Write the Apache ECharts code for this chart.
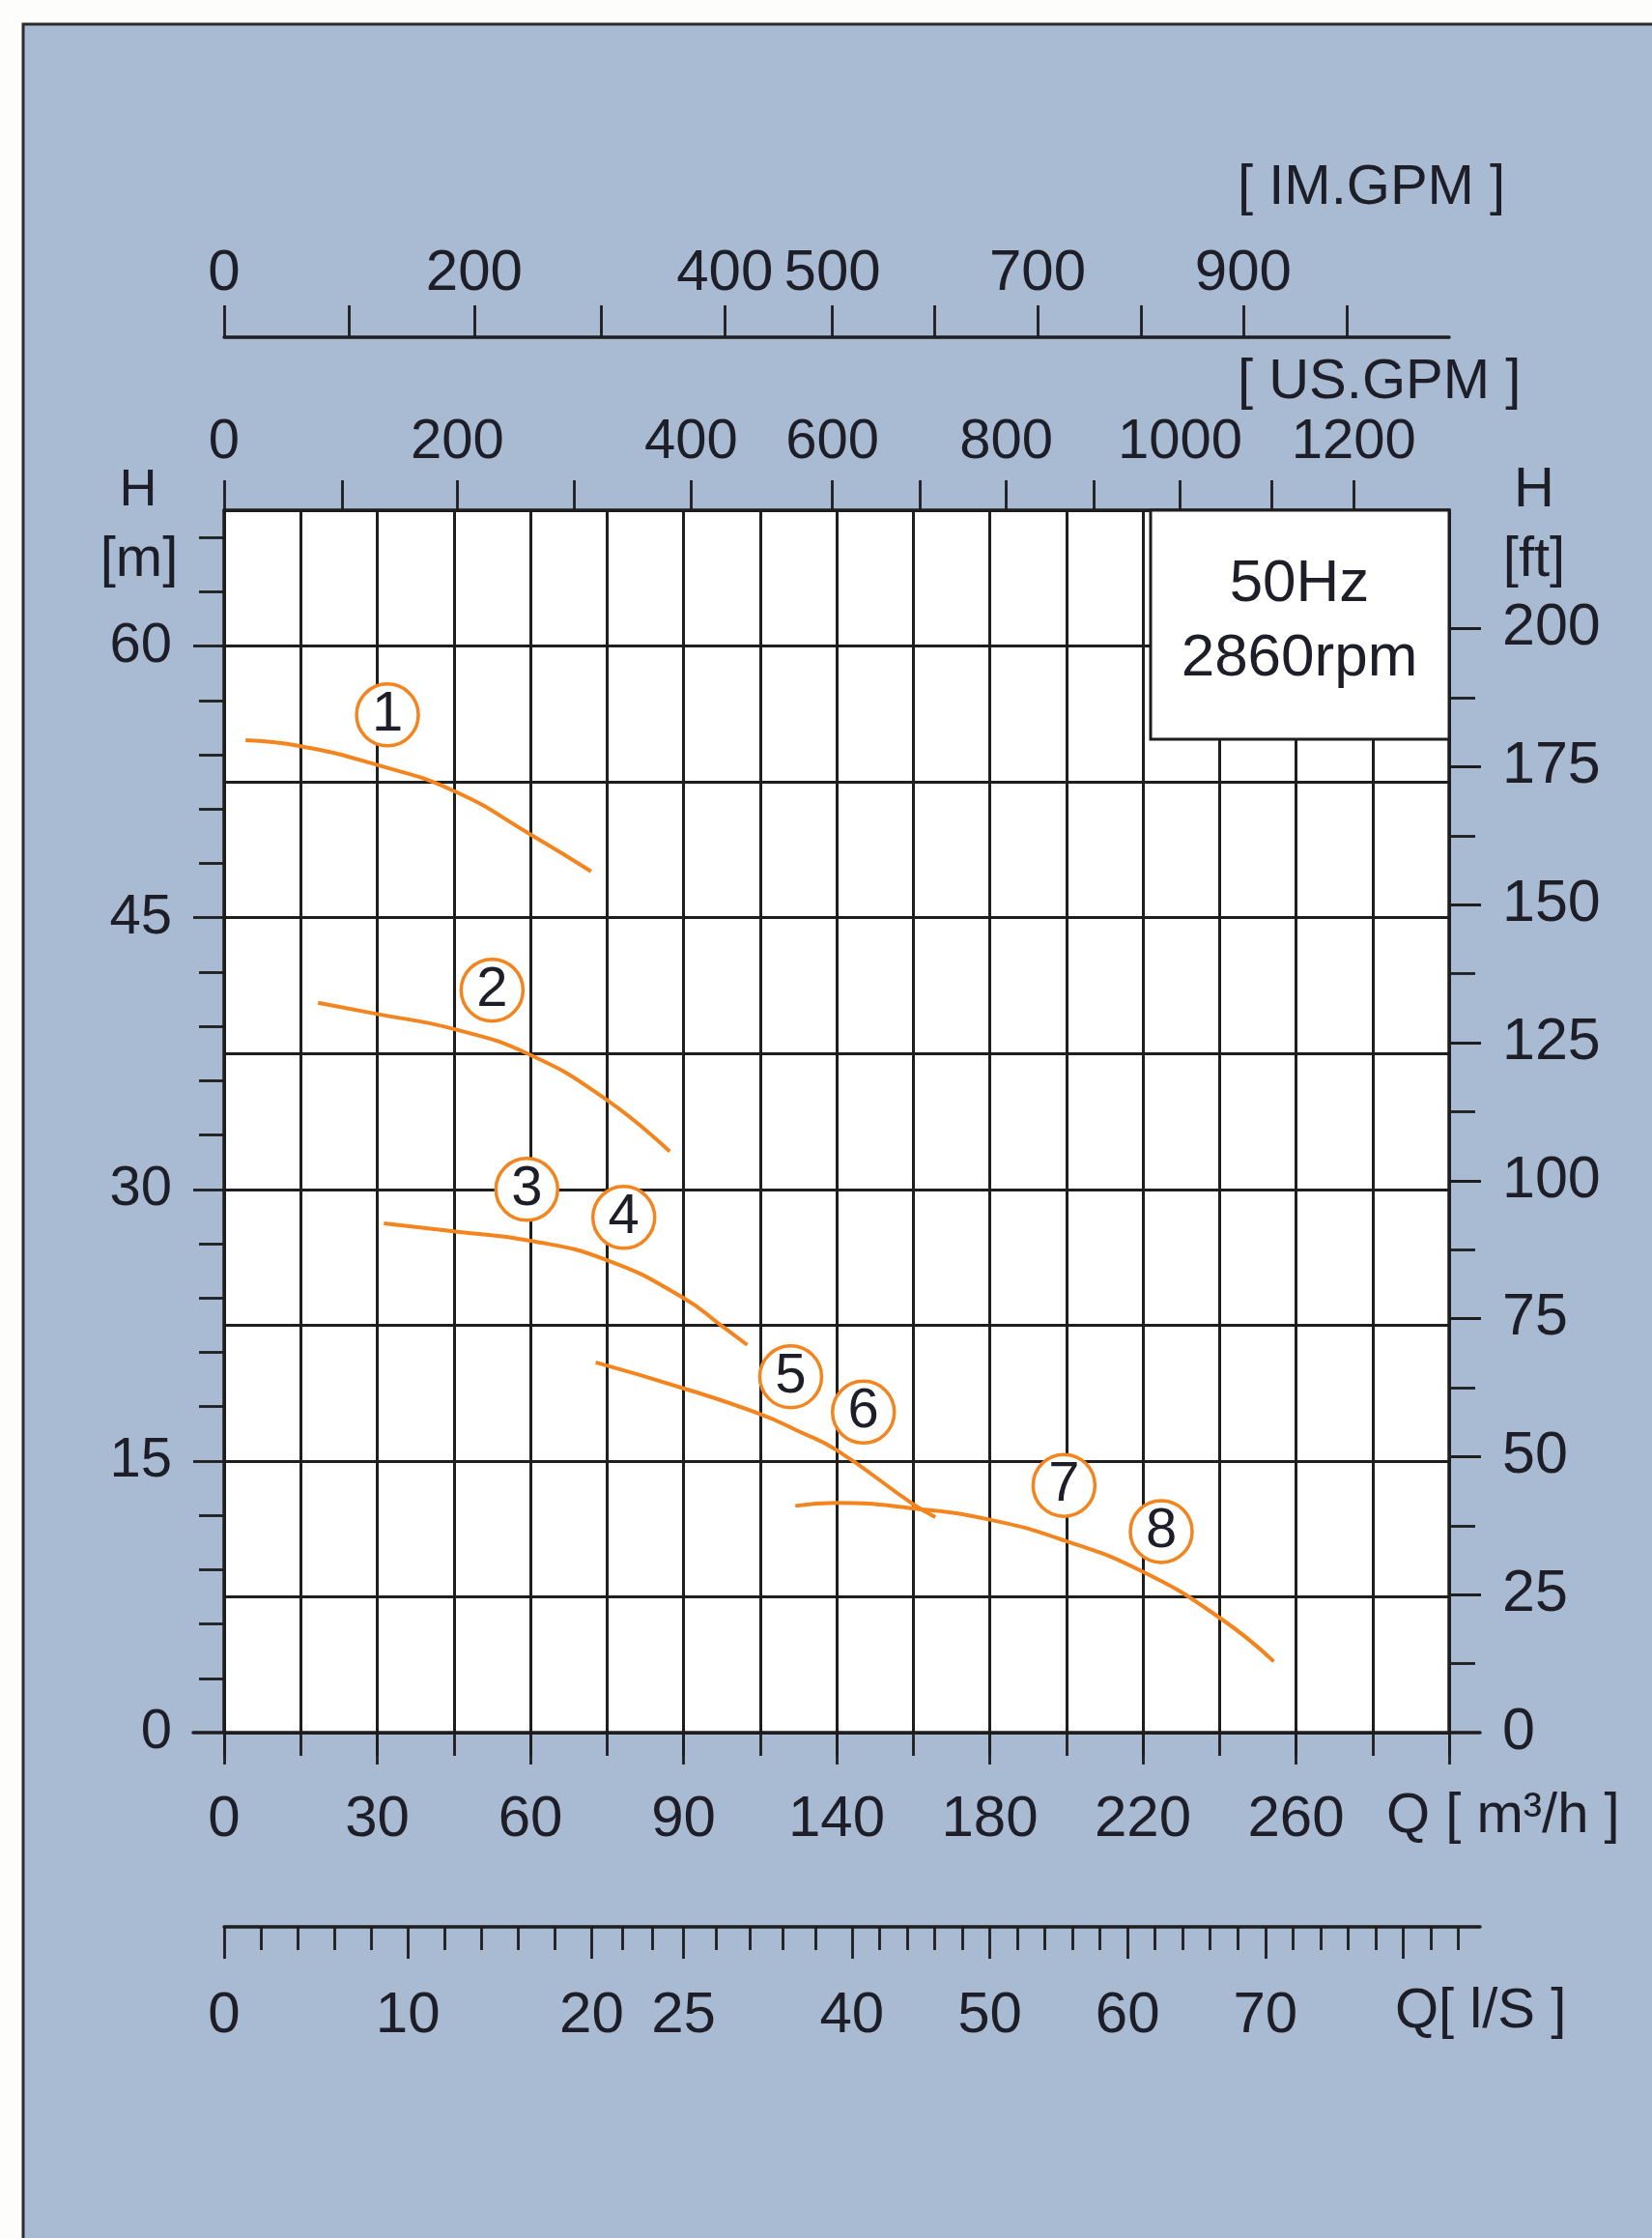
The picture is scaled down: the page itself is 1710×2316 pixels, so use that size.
<!DOCTYPE html>
<html><head><meta charset="utf-8">
<script src="https://cdn.jsdelivr.net/npm/echarts@6/dist/echarts.min.js"></script>
<style>html,body{margin:0;padding:0;background:#fdfdfb}#c{width:1710px;height:2316px}</style>
</head><body><div id="c"></div>
<script>
// ---------- data ----------
// Q axis of the chart is piecewise: flow (m3/h) at the grid columns where the scale changes
const qBreaks   = [0, 90, 140, 260];
const colBreaks = [0, 6, 8, 14];

const qTickLabels = [0, 30, 60, 90, 140, 180, 220, 260];        // m3/h labels
const hTickLabels = [0, 15, 30, 45, 60];                         // H [m]
const hMinorTicks = [3,6,9,12,18,21,24,27,33,36,39,42,48,51,54,57,63,66];
const ftTickLabels = [0, 25, 50, 75, 100, 125, 150, 175, 200];   // H [ft]
const ftMinorTicks = [12.5, 37.5, 62.5, 87.5, 112.5, 137.5, 162.5, 187.5];

// US.GPM / IM.GPM ticks and the flow (m3/h) they sit at on the chart
const usGpmTicks  = [0, 100, 200, 300, 400, 600, 700, 800, 900, 1000, 1100, 1200];
const usGpmAtQ    = [0, 23.2, 45.7, 68.6, 92.5, 138.6, 161.7, 184.3, 207.1, 229.7, 253.6, 275.1];
const usGpmLabels = [0, 200, 400, 600, 800, 1000, 1200];
const imGpmTicks  = [0, 100, 200, 300, 400, 500, 600, 700, 800, 900, 1000];
const imGpmAtQ    = [0, 24.4, 49.0, 73.8, 103.5, 138.6, 165.6, 192.5, 219.5, 246.2, 273.2];
const imGpmLabels = [0, 200, 400, 500, 700, 900];

// l/s ticks
const lsMajor  = [0, 10, 20, 25, 40, 50, 60, 70, 80];
const lsLabels = [0, 10, 20, 25, 40, 50, 60, 70];
const lsMinor  = [2,4,6,8,12,14,16,18,21.67,23.33,28,31,34,37,42,44,46,48,52,54,56,58,62,64,66,68,72,74,76,78,82,84];

// pump curves: Q [m3/h], H [m]
const curve1Q = [4.2, 15, 30, 45, 60, 71.9];
const curve1H = [54.8, 54.47, 53.43, 52.0, 49.6, 47.56];
const curve2Q = [18.4, 30, 45, 60, 75, 87.3];
const curve2H = [40.3, 39.68, 38.85, 37.42, 34.93, 32.09];
const curve34Q = [31.3, 45, 60, 75, 90, 102.3, 110.8];
const curve34H = [28.12, 27.68, 27.16, 26.09, 24.0, 22.48, 21.41];
const curve56Q = [72.8, 90, 115, 127.5, 140, 160, 165.8];
const curve56H = [20.44, 19.01, 17.59, 16.65, 15.6, 12.61, 11.9];
const curve78Q = [126.5, 140, 160, 180, 200, 220, 240, 254.2];
const curve78H = [12.52, 12.68, 12.38, 11.76, 10.57, 8.88, 6.35, 3.93];

// curve number markers
const markNames = ['1', '2', '3', '4', '5', '6', '7', '8'];
const markQ = [32, 52.5, 59.3, 78.3, 125, 147, 199.4, 224.8];
const markH = [56.2, 41.0, 30.0, 28.45, 19.65, 17.7, 13.65, 11.1];

// ---------- scale helpers ----------
function qToAxis(q) {
  const n = qBreaks.length;
  for (let i = 1; i < n; i++) {
    if (q <= qBreaks[i] || i === n - 1) {
      const t = (q - qBreaks[i - 1]) / (qBreaks[i] - qBreaks[i - 1]);
      return colBreaks[i - 1] + t * (colBreaks[i] - colBreaks[i - 1]);
    }
  }
}
function axisToQ(c) {
  const n = colBreaks.length;
  for (let i = 1; i < n; i++) {
    if (c <= colBreaks[i] || i === n - 1) {
      const t = (c - colBreaks[i - 1]) / (colBreaks[i] - colBreaks[i - 1]);
      return qBreaks[i - 1] + t * (qBreaks[i] - qBreaks[i - 1]);
    }
  }
}
function lookup(pos, texts) {
  return function (v) {
    let best = 0, d = Infinity;
    pos.forEach(function (p, i) { const e = Math.abs(p - v); if (e < d) { d = e; best = i; } });
    return String(texts[best]);
  };
}
const LS_PER_M3H = 1 / 3.6;
const FT_PER_M = 3.28084;
const H_MAX = 67.5;

const usPos = usGpmAtQ.map(qToAxis);
const usLabelPos = usGpmLabels.map(g => qToAxis(usGpmAtQ[usGpmTicks.indexOf(g)]));
const imPos = imGpmAtQ.map(qToAxis);
const imLabelPos = imGpmLabels.map(g => qToAxis(imGpmAtQ[imGpmTicks.indexOf(g)]));
const lsMajorPos = lsMajor.map(v => qToAxis(v / LS_PER_M3H));
const lsMinorPos = lsMinor.map(v => qToAxis(v / LS_PER_M3H));
const lsLabelPos = lsLabels.map(v => qToAxis(v / LS_PER_M3H));

// ---------- style ----------
const ORANGE = '#f3841e';
const INK = '#1d1e27';
const LINE = '#1e1e1e';
const FONT = '"Liberation Sans", Arial, sans-serif';

const G_LEFT = 232, G_RIGHT = 210, G_TOP = 528, G_BOTTOM = 523;
const mainWidth = 1710 - G_LEFT - G_RIGHT;
const lsRight = 178;
const lsMax = 16 * (1710 - G_LEFT - lsRight) / mainWidth;

function lbl(size, extra) {
  return Object.assign({ color: INK, fontSize: size, fontFamily: FONT }, extra || {});
}
const noLine = { show: false, onZero: false };
const axLine = { show: true, onZero: false, lineStyle: { color: LINE, width: 3.5 } };
const tick = (len, extra) => Object.assign({ show: true, length: len, lineStyle: { color: LINE, width: 2.8 } }, extra || {});

function curve(qs, hs) {
  return {
    type: 'line', xAxisIndex: 0, yAxisIndex: 0, smooth: 0.5, showSymbol: false, symbol: 'none',
    lineStyle: { color: ORANGE, width: 4 }, silent: true, z: 3,
    data: qs.map((q, i) => [qToAxis(q), hs[i]])
  };
}

const option = {
  animation: false,
  grid: [
    { left: G_LEFT, right: G_RIGHT, top: G_TOP, bottom: G_BOTTOM, show: true, backgroundColor: '#ffffff', borderWidth: 0, outerBoundsMode: 'none' },
    { left: G_LEFT, right: G_RIGHT, top: 349, height: 40, outerBoundsMode: 'none' },
    { left: 200, right: lsRight, top: 1700, bottom: G_BOTTOM, outerBoundsMode: 'none' },
    { left: G_LEFT, right: lsRight, top: 1994, height: 100, outerBoundsMode: 'none' }
  ],
  xAxis: [
    // 0: grid columns + short ticks
    { gridIndex: 0, type: 'value', position: 'bottom', min: 0, max: 16, interval: 1,
      axisLine: noLine, axisTick: tick(24), axisLabel: { show: false },
      splitLine: { show: true, lineStyle: { color: LINE, width: 3 } } },
    // 1: long ticks + Q labels
    { gridIndex: 0, type: 'value', position: 'bottom', min: 0, max: 16, interval: 2,
      axisLine: noLine, axisTick: tick(33), splitLine: { show: false },
      axisLabel: lbl(60, { show: true, margin: 60, customValues: qTickLabels.map(qToAxis),
        formatter: v => String(Math.round(axisToQ(v))) }) },
    // 2: US.GPM on top border
    { gridIndex: 0, type: 'value', position: 'top', min: 0, max: 16,
      axisLine: axLine, axisTick: tick(31, { customValues: usPos }), splitLine: { show: false },
      axisLabel: lbl(58, { show: true, margin: 41, customValues: usLabelPos, formatter: lookup(usLabelPos, usGpmLabels) }) },
    // 3: IM.GPM
    { gridIndex: 1, type: 'value', position: 'top', min: 0, max: 16,
      axisLine: axLine, axisTick: tick(33, { customValues: imPos }), splitLine: { show: false },
      axisLabel: lbl(60, { show: true, margin: 36, customValues: imLabelPos, formatter: lookup(imLabelPos, imGpmLabels) }) },
    // 4: extended bottom axis line
    { gridIndex: 2, type: 'value', position: 'bottom', min: 0, max: 1,
      axisLine: axLine, axisTick: { show: false }, axisLabel: { show: false }, splitLine: { show: false } },
    // 5: l/s minor ticks + line
    { gridIndex: 3, type: 'value', position: 'top', min: 0, max: lsMax,
      axisLine: axLine, axisTick: tick(24, { inside: true, customValues: lsMinorPos }),
      axisLabel: { show: false }, splitLine: { show: false } },
    // 6: l/s major ticks + labels
    { gridIndex: 3, type: 'value', position: 'top', min: 0, max: lsMax,
      axisLine: noLine, axisTick: tick(33, { inside: true, customValues: lsMajorPos }), splitLine: { show: false },
      axisLabel: lbl(60, { show: true, inside: true, margin: 62, customValues: lsLabelPos,
        formatter: lookup(lsLabelPos, lsLabels) }) }
  ],
  yAxis: [
    // 0: H [m] with grid rows
    { gridIndex: 0, type: 'value', position: 'left', min: 0, max: H_MAX, interval: 7.5,
      axisLine: axLine, axisTick: { show: false },
      axisLabel: lbl(58, { show: true, margin: 54, customValues: hTickLabels, formatter: v => String(v) }),
      splitLine: { show: true, lineStyle: { color: LINE, width: 3 } } },
    { gridIndex: 0, type: 'value', position: 'left', min: 0, max: H_MAX,
      axisLine: noLine, axisTick: tick(26, { customValues: hMinorTicks }), axisLabel: { show: false }, splitLine: { show: false } },
    { gridIndex: 0, type: 'value', position: 'left', min: 0, max: H_MAX,
      axisLine: noLine, axisTick: tick(32, { customValues: hTickLabels.slice(1) }), axisLabel: { show: false }, splitLine: { show: false } },
    // 3: H [ft]
    { gridIndex: 0, type: 'value', position: 'right', min: 0, max: H_MAX * FT_PER_M,
      axisLine: axLine, axisTick: tick(27, { customValues: ftMinorTicks }), splitLine: { show: false },
      axisLabel: lbl(61, { show: true, margin: 55, customValues: ftTickLabels, formatter: v => String(v) }) },
    { gridIndex: 0, type: 'value', position: 'right', min: 0, max: H_MAX * FT_PER_M,
      axisLine: noLine, axisTick: tick(33, { customValues: ftTickLabels.slice(1) }), axisLabel: { show: false }, splitLine: { show: false } },
    { gridIndex: 1, type: 'value', show: false, min: 0, max: 1 },
    { gridIndex: 2, type: 'value', show: false, min: 0, max: 1 },
    { gridIndex: 3, type: 'value', show: false, min: 0, max: 1 }
  ],
  series: [
    curve(curve1Q, curve1H),
    curve(curve2Q, curve2H),
    curve(curve34Q, curve34H),
    curve(curve56Q, curve56H),
    curve(curve78Q, curve78H),
    {
      type: 'scatter', xAxisIndex: 0, yAxisIndex: 0, symbol: 'circle', symbolSize: 64, silent: true, z: 5,
      itemStyle: { color: '#ffffff', borderColor: ORANGE, borderWidth: 3.5, opacity: 1 },
      label: { show: true, position: 'inside', color: INK, fontSize: 58, fontFamily: FONT,
        formatter: p => markNames[p.dataIndex] },
      data: markQ.map((q, i) => [qToAxis(q), markH[i]])
    }
  ],
  graphic: [
    { type: 'rect', z: -100, silent: true, shape: { x: 24, y: 25, width: 1720, height: 2330 },
      style: { fill: '#a9bbd3', stroke: '#2c2c2c', lineWidth: 3 } },
    { type: 'rect', z: 50, silent: true, shape: { x: 1191, y: 528, width: 309, height: 237 },
      style: { fill: '#ffffff', stroke: LINE, lineWidth: 3 } },
    txt('50Hz', 1345, 605, 62, 'center'),
    txt('2860rpm', 1345, 682, 62, 'center'),
    txt('[ IM.GPM ]', 1281, 195, 58, 'left'),
    txt('[ US.GPM ]', 1281, 396, 58, 'left'),
    txt('H', 143, 508, 54, 'center'),
    txt('[m]', 144, 580, 58, 'center'),
    txt('H', 1588, 508, 58, 'center'),
    txt('[ft]', 1588, 580, 58, 'center'),
    txt('Q [ m\u00b3/h ]', 1435, 1880, 58, 'left'),
    txt('Q[ l/S ]', 1444, 2082, 58, 'left')
  ]
};
function txt(t, x, y, size, align) {
  return { type: 'text', z: 60, silent: true, x: x, y: y,
    style: { text: t, fill: INK, font: size + 'px ' + FONT, fontSize: size, fontFamily: FONT,
      textAlign: align, align: align, textVerticalAlign: 'middle', verticalAlign: 'middle' } };
}
const chart = echarts.init(document.getElementById('c'), null, { renderer: 'canvas' });
chart.setOption(option);
</script>
</body></html>
